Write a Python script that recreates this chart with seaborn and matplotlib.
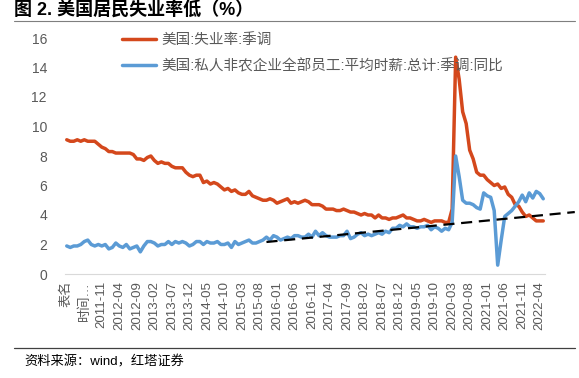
import numpy as np
import pandas as pd
import matplotlib
matplotlib.use("Agg")
import matplotlib.pyplot as plt
import seaborn as sns

# monthly data, 2011-01 .. 2022-05
unemp = [9.1, 9.0, 9.0, 9.1, 9.0, 9.1, 9.0, 9.0, 9.0, 8.8, 8.6, 8.5,
         8.3, 8.3, 8.2, 8.2, 8.2, 8.2, 8.2, 8.1, 7.8, 7.8, 7.7, 7.9,
         8.0, 7.7, 7.5, 7.6, 7.5, 7.5, 7.3, 7.2, 7.2, 7.2, 6.9, 6.7,
         6.6, 6.7, 6.7, 6.2, 6.3, 6.1, 6.2, 6.1, 5.9, 5.7, 5.8, 5.6,
         5.7, 5.5, 5.4, 5.4, 5.6, 5.3, 5.2, 5.1, 5.0, 5.0, 5.1, 5.0,
         4.8, 4.9, 5.0, 5.1, 4.8, 4.9, 4.8, 4.9, 5.0, 4.9, 4.7, 4.7,
         4.7, 4.6, 4.4, 4.4, 4.4, 4.3, 4.3, 4.4, 4.3, 4.2, 4.2, 4.1,
         4.0, 4.1, 4.0, 4.0, 3.8, 4.0, 3.8, 3.8, 3.7, 3.8, 3.8, 3.9,
         4.0, 3.8, 3.8, 3.7, 3.6, 3.6, 3.7, 3.6, 3.5, 3.6, 3.6, 3.6,
         3.5, 3.5, 4.4, 14.7, 13.2, 11.0, 10.2, 8.4, 7.8, 6.9, 6.7, 6.7,
         6.4, 6.2, 6.0, 6.1, 5.8, 5.9, 5.4, 5.2, 4.7, 4.6, 4.2, 3.9,
         4.0, 3.8, 3.6, 3.6, 3.6]

wage_yoy = [1.9, 1.8, 1.9, 1.9, 2.0, 2.2, 2.3, 2.0, 1.9, 2.0, 1.9, 2.0,
            1.7, 1.8, 2.1, 1.9, 1.8, 2.0, 1.7, 1.8, 1.9, 1.5, 1.9, 2.2,
            2.2, 2.1, 1.9, 2.0, 2.0, 2.2, 2.0, 2.2, 2.1, 2.2, 2.1, 1.9,
            2.0, 2.2, 2.2, 2.0, 2.2, 2.1, 2.1, 2.2, 2.0, 2.0, 2.1, 1.8,
            2.2, 2.0, 2.1, 2.2, 2.3, 2.1, 2.1, 2.2, 2.3, 2.5, 2.3, 2.6,
            2.5, 2.3, 2.4, 2.5, 2.4, 2.6, 2.6, 2.5, 2.5, 2.7, 2.5, 2.9,
            2.6, 2.8, 2.6, 2.5, 2.5, 2.5, 2.6, 2.6, 2.9, 2.4, 2.5, 2.7,
            2.8, 2.6, 2.7, 2.6, 2.7, 2.8, 2.7, 2.9, 2.8, 3.1, 3.1, 3.3,
            3.2, 3.4, 3.2, 3.2, 3.1, 3.2, 3.2, 3.3, 3.0, 3.2, 3.1, 2.9,
            3.1, 3.0, 3.5, 8.0, 6.6, 5.0, 4.8, 4.8, 4.7, 4.5, 4.4, 5.5,
            5.3, 5.2, 4.3, 0.6, 2.3, 3.9, 4.1, 4.3, 4.6, 4.9, 5.35, 4.9,
            5.5, 5.15, 5.6, 5.45, 5.1]

# dashed trend line (start / end month index and value)
trend_idx = [57, 145]
trend_val = [2.17, 4.2]

months = pd.period_range("2011-01", periods=len(unemp), freq="M").strftime("%Y-%m").tolist()
label_every = 5
tick_text = ["表名", "时间…"] + months[10::label_every]

name_red = "美国:失业率:季调"
name_blue = "美国:私人非农企业全部员工:平均时薪:总计:季调:同比"
title = "图 2. 美国居民失业率低（%）"
source = "资料来源：wind，红塔证券"

sns.set_theme(style="white")
plt.rcParams["font.family"] = ["Liberation Sans", "Noto Sans CJK SC", "DejaVu Sans"]

grey = "#595959"
red = "#D4481C"
blue = "#5B9BD5"

fig = plt.figure(figsize=(5.79, 3.78), dpi=100)
ax = fig.add_axes([65 / 579, 1 - 274 / 378, 480 / 579, 236 / 378])

x = np.arange(len(unemp))
sns.lineplot(x=x, y=unemp, ax=ax, color=red, lw=2.5, label=name_red)
sns.lineplot(x=x, y=wage_yoy, ax=ax, color=blue, lw=2.5, label=name_blue)
ax.plot(trend_idx, trend_val, color="black", lw=1.6, ls=(0, (5, 3)), clip_on=False, zorder=4)

ax.set_xlim(-0.5, len(unemp) - 0.5)
ax.set_ylim(0, 16)
ax.set_yticks(range(0, 17, 2))
ax.tick_params(axis="y", length=0, pad=13, labelsize=10, labelcolor=grey)

ax.set_xticks(x)
labels = [""] * len(x)
for i, t in zip(range(0, len(x), label_every), tick_text):
    labels[i] = t
ax.set_xticklabels(labels, rotation=90)
ax.tick_params(axis="x", length=3, width=0.6, color="#C8C8C8", direction="out",
               pad=2, labelsize=9.5, labelcolor=grey)

for s in ["top", "right", "left"]:
    ax.spines[s].set_visible(False)
ax.spines["bottom"].set_color("#D9D9D9")
ax.spines["bottom"].set_linewidth(0.8)

leg = ax.legend(loc="upper left", bbox_to_anchor=(122 / 579, 1 - 33 / 378),
                bbox_transform=fig.transFigure, frameon=False, fontsize=10.5,
                handlelength=2.3, handletextpad=0.4, labelspacing=0.8,
                borderpad=0, borderaxespad=0)
for t in leg.get_texts():
    t.set_color(grey)

fig.text(14 / 579, 1 - 11 / 378, title, fontsize=13, fontweight="bold",
         color="black", va="center", ha="left")
fig.add_artist(plt.Line2D([14 / 579, 575 / 579], [1 - 21 / 378, 1 - 21 / 378],
                          color="#7F7F7F", lw=0.8))
fig.add_artist(plt.Line2D([14 / 579, 575 / 579], [1 - 348 / 378, 1 - 348 / 378],
                          color="#404040", lw=0.9))
fig.text(24 / 579, 1 - 362 / 378, source, fontsize=9.5, color="black", va="center", ha="left")

fig.savefig("out.png", dpi=100)
